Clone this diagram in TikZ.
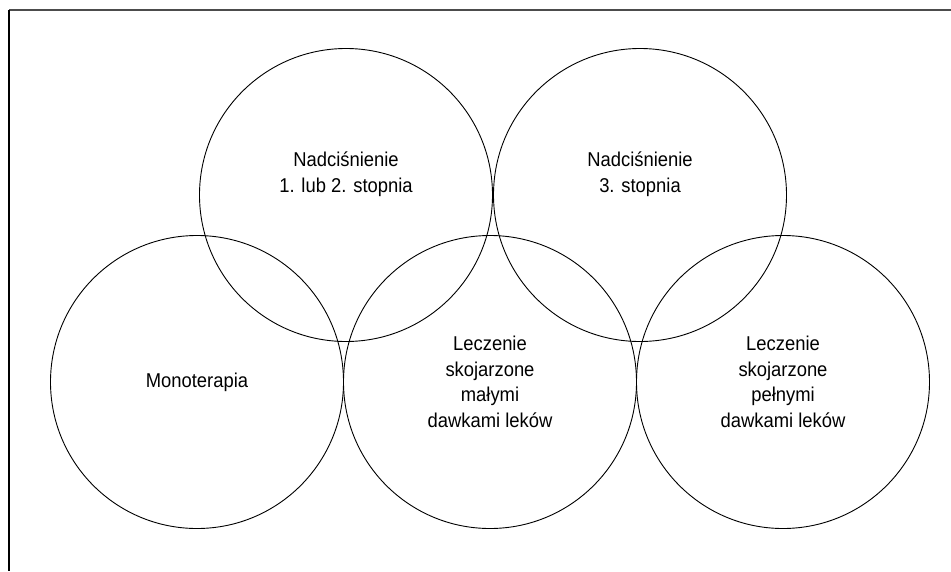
\documentclass[tikz,border=0pt]{standalone}
\usepackage{fontspec}
\setmainfont{Liberation Sans}[FakeStretch=0.92]
\begin{document}
\begin{tikzpicture}[x=1pt,y=-1pt,every node/.style={font=\fontsize{20}{25.5}\selectfont,align=center},
  ring/.style={draw,circle,line width=0.9pt,minimum size=293pt,inner sep=0pt}]
  \useasboundingbox (0,0) rectangle (951,571);
  % frame (only top and left visible)
  \draw[black!70,line width=1.8pt] (951,10) -- (9,10);
  \draw[line width=1.1pt] (9,9.5) -- (9,571);

  % circles
  \node[ring] (nad12) at (346,195) {};
  \node[ring] (nad3) at (640,195) {};
  \node[ring] (mono) at (197,382) {};
  \node[ring] (malymi) at (490,382) {};
  \node[ring] (pelnymi) at (783,382) {};

  % labels
  \node (t12) at ([yshift=21pt]nad12.center) {Nadciśnienie\\1. lub 2. stopnia};
  \node (t3) at ([yshift=21pt]nad3.center) {Nadciśnienie\\3. stopnia};
  \node (tmono) at (mono.center) {Monoterapia};
  \node (tmal) at (malymi.center) {Leczenie\\skojarzone\\małymi\\dawkami leków};
  \node (tpel) at (pelnymi.center) {Leczenie\\skojarzone\\pełnymi\\dawkami leków};
\end{tikzpicture}
\end{document}
